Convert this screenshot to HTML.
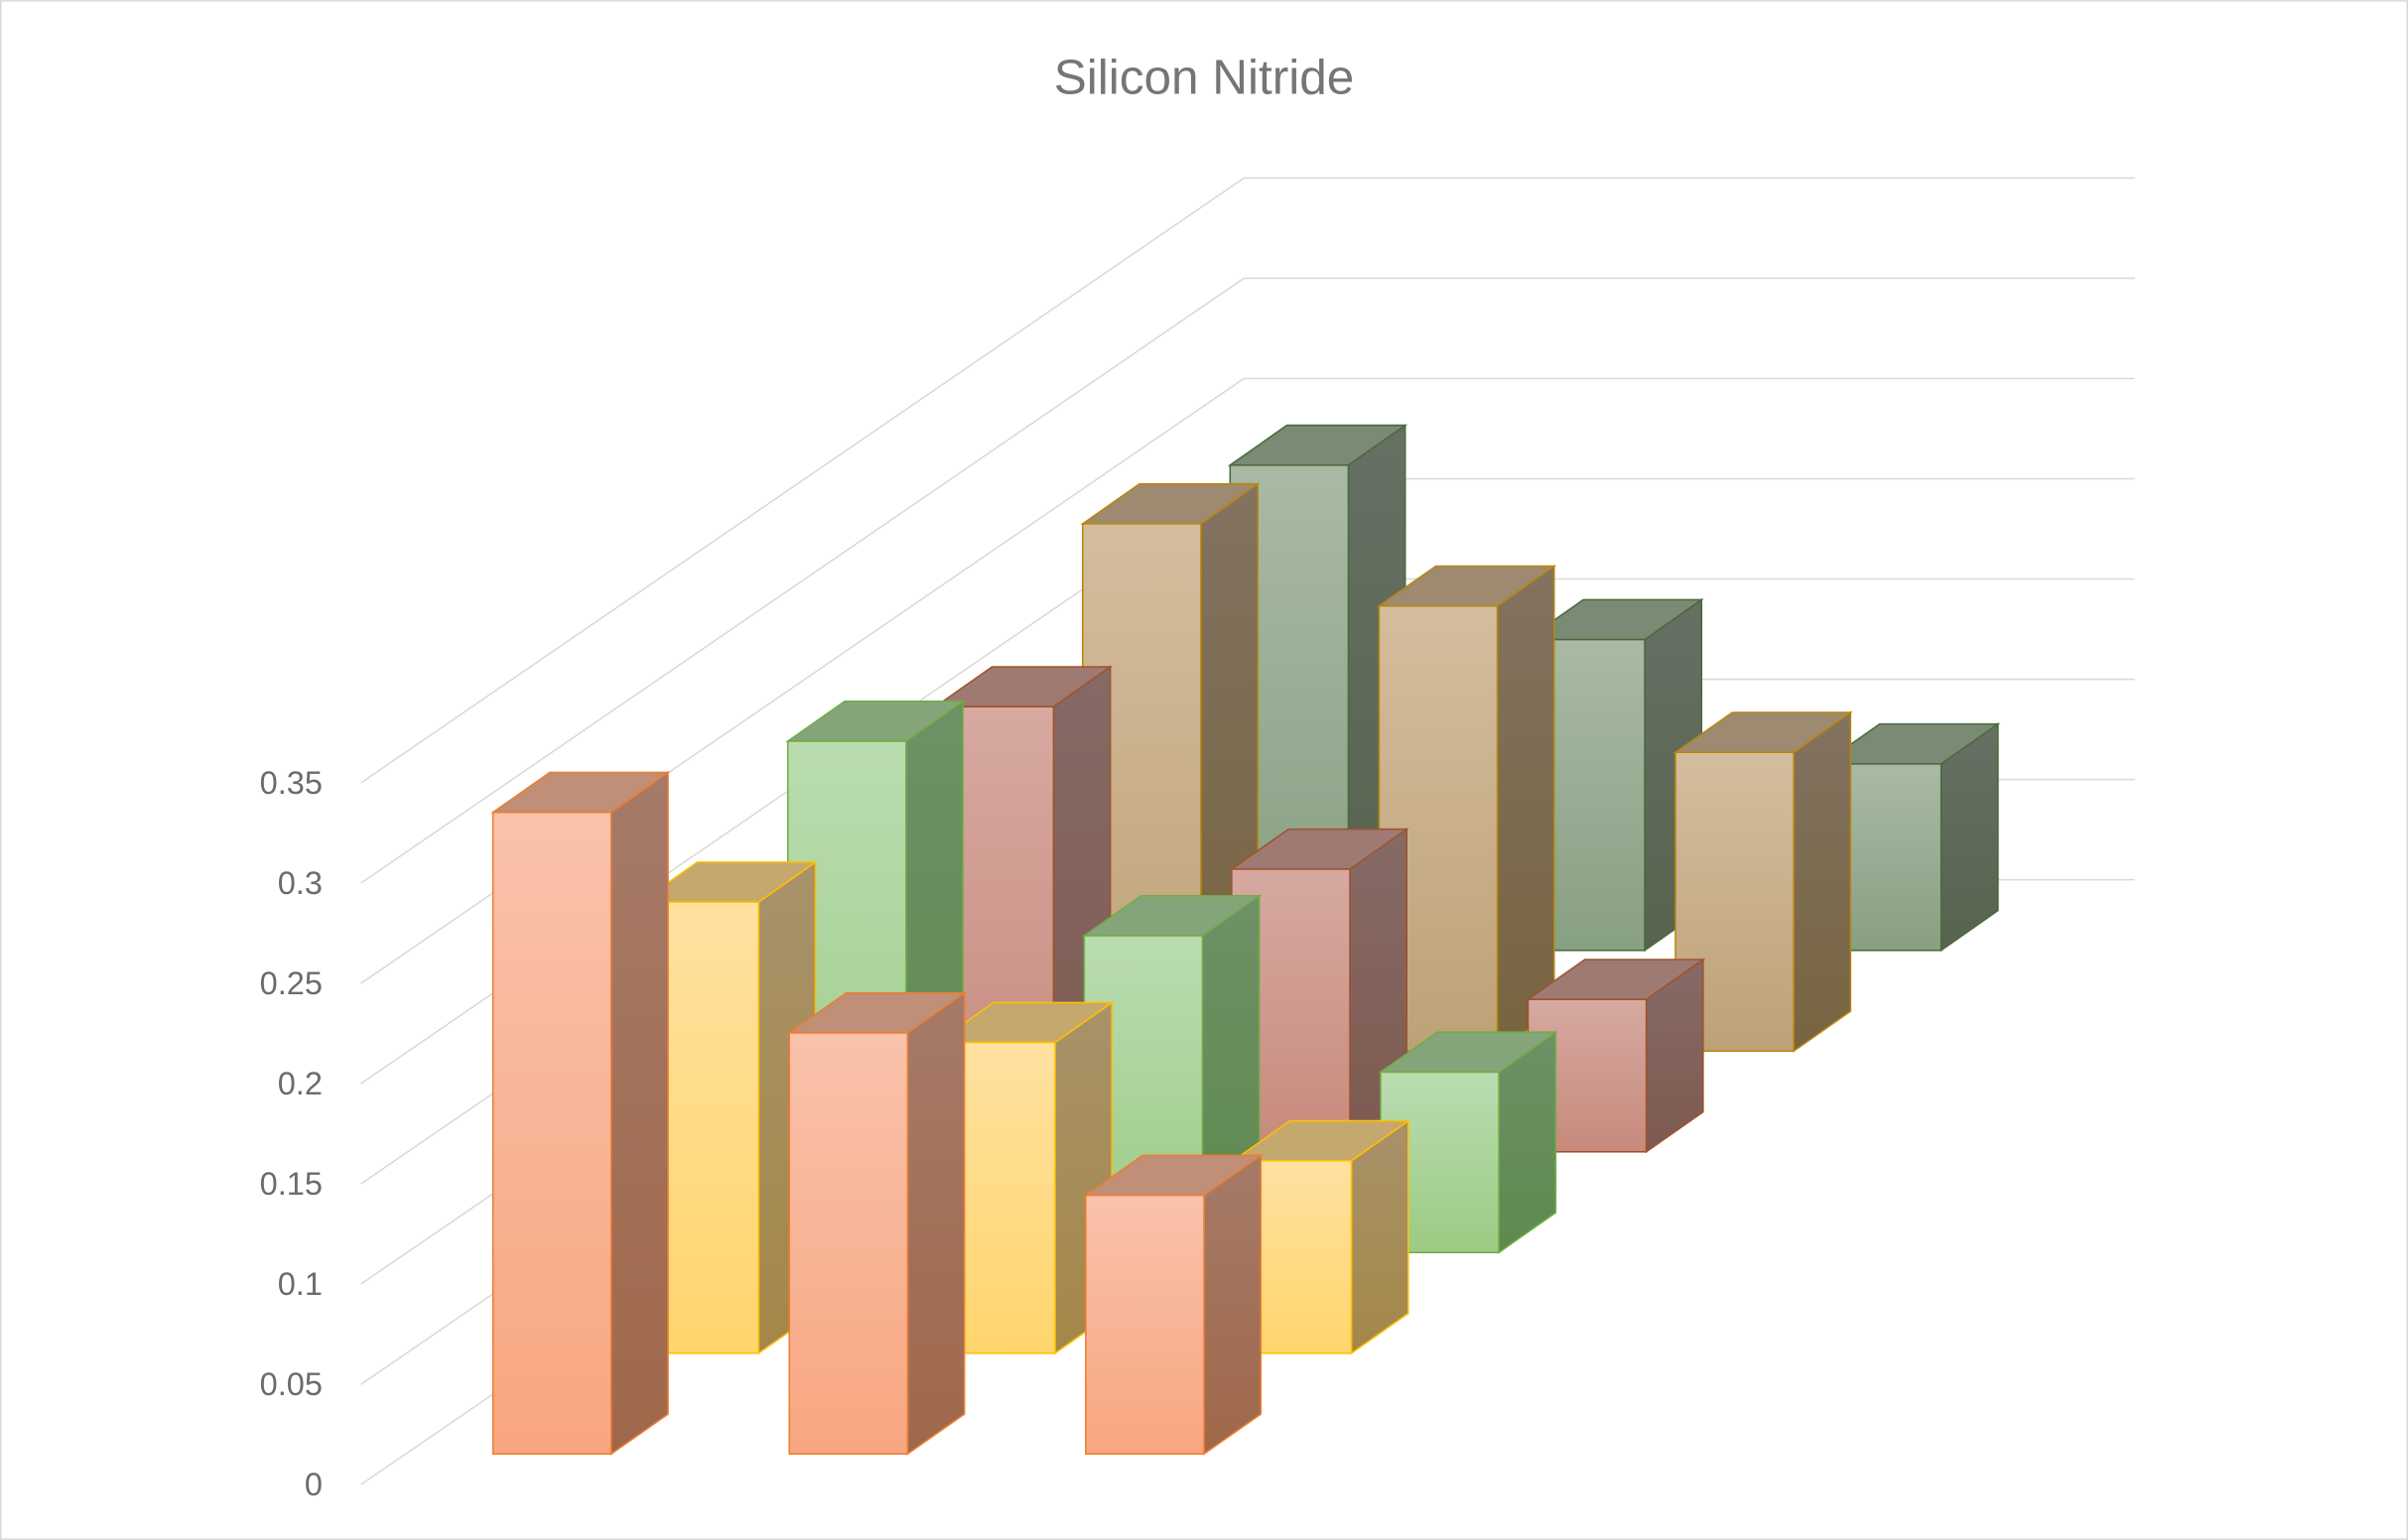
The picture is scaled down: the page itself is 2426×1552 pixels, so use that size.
<!DOCTYPE html>
<html><head><meta charset="utf-8"><style>
html,body{margin:0;padding:0;background:#fff;}
svg{display:block;}
</style></head><body>
<svg id="chart" width="2426" height="1552" viewBox="0 0 1568 1003" xmlns="http://www.w3.org/2000/svg">
<defs>
<linearGradient id="g0" x1="0" y1="0" x2="0" y2="1"><stop offset="0" stop-color="#f9c2ab"/><stop offset="1" stop-color="#f8a680"/></linearGradient>
<linearGradient id="g1" x1="0" y1="0" x2="0" y2="1"><stop offset="0" stop-color="#ffe1a0"/><stop offset="1" stop-color="#ffd56c"/></linearGradient>
<linearGradient id="g2" x1="0" y1="0" x2="0" y2="1"><stop offset="0" stop-color="#badcb0"/><stop offset="1" stop-color="#9ccb84"/></linearGradient>
<linearGradient id="g3" x1="0" y1="0" x2="0" y2="1"><stop offset="0" stop-color="#d6a9a0"/><stop offset="1" stop-color="#c78a7c"/></linearGradient>
<linearGradient id="g4" x1="0" y1="0" x2="0" y2="1"><stop offset="0" stop-color="#d4bd9e"/><stop offset="1" stop-color="#bea276"/></linearGradient>
<linearGradient id="g5" x1="0" y1="0" x2="0" y2="1"><stop offset="0" stop-color="#a9b9a5"/><stop offset="1" stop-color="#88a082"/></linearGradient>
<linearGradient id="s0" x1="0" y1="0" x2="0" y2="1"><stop offset="0" stop-color="#a57a68"/><stop offset="1" stop-color="#a0684a"/></linearGradient>
<linearGradient id="s1" x1="0" y1="0" x2="0" y2="1"><stop offset="0" stop-color="#a8926a"/><stop offset="1" stop-color="#a48748"/></linearGradient>
<linearGradient id="s2" x1="0" y1="0" x2="0" y2="1"><stop offset="0" stop-color="#6e9066"/><stop offset="1" stop-color="#5e8a4e"/></linearGradient>
<linearGradient id="s3" x1="0" y1="0" x2="0" y2="1"><stop offset="0" stop-color="#866a66"/><stop offset="1" stop-color="#7e5a50"/></linearGradient>
<linearGradient id="s4" x1="0" y1="0" x2="0" y2="1"><stop offset="0" stop-color="#827260"/><stop offset="1" stop-color="#786440"/></linearGradient>
<linearGradient id="s5" x1="0" y1="0" x2="0" y2="1"><stop offset="0" stop-color="#667064"/><stop offset="1" stop-color="#56644e"/></linearGradient>
</defs>
<rect x="0.5" y="0.5" width="1567" height="1002" fill="#fff" stroke="#d9d9d9"/>
<text x="784" y="61" text-anchor="middle" font-family="Liberation Sans, sans-serif" font-size="32" fill="#757575">Silicon Nitride</text>
<g id="grid"></g>
<g id="bars"></g>
</svg>
<script>
const categories = ["A", "B", "C"];
const series0 = [0.32, 0.21, 0.129];
const series1 = [0.225, 0.155, 0.096];
const series2 = [0.255, 0.158, 0.09];
const series3 = [0.222, 0.141, 0.076];
const series4 = [0.263, 0.222, 0.149];
const series5 = [0.242, 0.155, 0.093];
const tickValues = [0, 0.05, 0.1, 0.15, 0.2, 0.25, 0.3, 0.35];
const tickLabels = ["0", "0.05", "0.1", "0.15", "0.2", "0.25", "0.3", "0.35"];

const NS = "http://www.w3.org/2000/svg";
const allSeries = [series0, series1, series2, series3, series4, series5];
const styles = [
  {f:"url(#g0)", side:"url(#s0)", top:"#bf8f78", s:"#ed7d31"},
  {f:"url(#g1)", side:"url(#s1)", top:"#c4a86e", s:"#ffc000"},
  {f:"url(#g2)", side:"url(#s2)", top:"#86a47a", s:"#70ad47"},
  {f:"url(#g3)", side:"url(#s3)", top:"#9e7a72", s:"#a0522d"},
  {f:"url(#g4)", side:"url(#s4)", top:"#9e8a70", s:"#b8860b"},
  {f:"url(#g5)", side:"url(#s5)", top:"#7a8a74", s:"#4a6a3a"}
];
const unit = 1306;
function yScale(v){ return 967 - unit * v; }
function xFront(c, k){ return 321 + 193 * c + 96 * k; }
function yBase(k){ return 947 - 65.6 * k; }
const bw = 77, dx = 37, dy = -26;

const grid = document.getElementById("grid");
tickValues.forEach((v, i) => {
  const y = yScale(v);
  const p = document.createElementNS(NS, "polyline");
  p.setAttribute("points", `235,${y} 810,${y-394} 1390,${y-394}`);
  p.setAttribute("fill", "none");
  p.setAttribute("stroke", "#d9d9d9");
  p.setAttribute("stroke-width", "1");
  
  
  grid.appendChild(p);
  const t = document.createElementNS(NS, "text");
  t.setAttribute("x", 210);
  t.setAttribute("y", y + 7);
  t.setAttribute("text-anchor", "end");
  t.setAttribute("font-family", "Liberation Sans, sans-serif");
  t.setAttribute("font-size", "21");
  t.setAttribute("fill", "#6b6b6b");
  t.textContent = tickLabels[i];
  
  
  grid.appendChild(t);
});

const bars = document.getElementById("bars");
for (let k = allSeries.length - 1; k >= 0; k--) {
  const st = styles[k];
  allSeries[k].forEach((v, c) => {
    const x = xFront(c, k), b = yBase(k), t = b - unit * v;
    const g = document.createElementNS(NS, "g");
    
    
    const side = document.createElementNS(NS, "polygon");
    side.setAttribute("points", `${x+bw},${t} ${x+bw+dx},${t+dy} ${x+bw+dx},${b+dy} ${x+bw},${b}`);
    side.setAttribute("fill", st.side); side.setAttribute("stroke", st.s); side.setAttribute("stroke-width", "1");
    const top = document.createElementNS(NS, "polygon");
    top.setAttribute("points", `${x},${t} ${x+dx},${t+dy} ${x+bw+dx},${t+dy} ${x+bw},${t}`);
    top.setAttribute("fill", st.top); top.setAttribute("stroke", st.s); top.setAttribute("stroke-width", "1");
    const front = document.createElementNS(NS, "rect");
    front.setAttribute("x", x); front.setAttribute("y", t);
    front.setAttribute("width", bw); front.setAttribute("height", b - t);
    front.setAttribute("fill", st.f); front.setAttribute("stroke", st.s); front.setAttribute("stroke-width", "1");
    g.appendChild(side); g.appendChild(top); g.appendChild(front);
    bars.appendChild(g);
  });
}
</script>
</body></html>
